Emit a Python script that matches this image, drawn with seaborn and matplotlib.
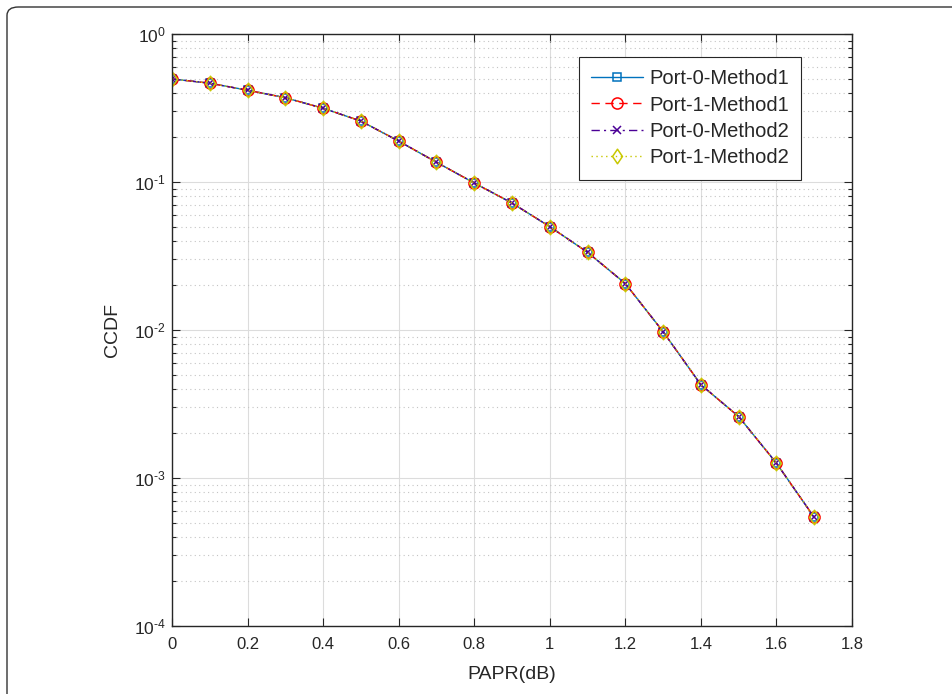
import numpy as np
import pandas as pd
import matplotlib
matplotlib.use("Agg")
import matplotlib.pyplot as plt
import seaborn as sns
from matplotlib.patches import FancyBboxPatch
from matplotlib.path import Path
from matplotlib.ticker import LogLocator, FuncFormatter, FixedLocator, NullLocator

papr = [0.0, 0.1, 0.2, 0.3, 0.4, 0.5, 0.6, 0.7, 0.8, 0.9, 1.0, 1.1, 1.2, 1.3, 1.4, 1.5, 1.6, 1.7]
ccdf_p0_m1 = [0.497, 0.465, 0.417, 0.371, 0.315, 0.258, 0.189, 0.136, 0.0985, 0.0721, 0.0499,
              0.0335, 0.0206, 0.00974, 0.00427, 0.00260, 0.00126, 0.000542]
ccdf_p1_m1 = list(ccdf_p0_m1)
ccdf_p0_m2 = list(ccdf_p0_m1)
ccdf_p1_m2 = list(ccdf_p0_m1)
series_names = ["Port-0-Method1", "Port-1-Method1", "Port-0-Method2", "Port-1-Method2"]
x_ticks = [0, 0.2, 0.4, 0.6, 0.8, 1.0, 1.2, 1.4, 1.6, 1.8]
x_tick_labels = ["0", "0.2", "0.4", "0.6", "0.8", "1", "1.2", "1.4", "1.6", "1.8"]

sns.set_theme(style="white")
plt.rcParams['font.family'] = ['Liberation Sans', 'DejaVu Sans']
plt.rcParams['mathtext.fontset'] = 'custom'
plt.rcParams['mathtext.rm'] = 'Liberation Sans'
plt.rcParams['mathtext.it'] = 'Liberation Sans'
plt.rcParams['mathtext.bf'] = 'Liberation Sans'
plt.rcParams['axes.unicode_minus'] = False

W, H = 952, 694
fig = plt.figure(figsize=(W / 100, H / 100), dpi=100)
fig.patch.set_facecolor("white")
# rounded panel border (right and bottom run off the image)
border = FancyBboxPatch((7 / W, 1 - 720 / H), (980 - 7) / W, (720 - 7) / H,
                        boxstyle="round,pad=0,rounding_size=0.012",
                        transform=fig.transFigure, facecolor="none",
                        edgecolor="#333333", linewidth=1.0, zorder=0)
fig.patches.append(border)

ax = fig.add_axes([172 / W, 1 - 626 / H, (852 - 172) / W, (626 - 34) / H])

matlab_diamond = Path([(0, 1), (0.68, 0), (0, -1), (-0.68, 0), (0, 1)],
                      [Path.MOVETO, Path.LINETO, Path.LINETO, Path.LINETO, Path.CLOSEPOLY])

styles = [
    dict(color="#0072BD", linestyle="-", marker="s", markersize=5.5),
    dict(color="#FF0000", linestyle=(0, (6, 4)), marker="o", markersize=8),
    dict(color="#4B0096", linestyle=(0, (6, 3, 1.5, 3)), marker="x", markersize=6),
    dict(color="#C8C800", linestyle=(0, (1, 2.5)), marker=matlab_diamond, markersize=10.5),
]
data = [ccdf_p0_m1, ccdf_p1_m1, ccdf_p0_m2, ccdf_p1_m2]
for name, vals, st in zip(series_names, data, styles):
    df = pd.DataFrame({"PAPR": papr, "CCDF": vals})
    sns.lineplot(data=df, x="PAPR", y="CCDF", ax=ax, label=name,
                 color=st["color"], linestyle=st["linestyle"], marker=st["marker"],
                 markersize=st["markersize"], markerfacecolor="none",
                 markeredgecolor=st["color"], markeredgewidth=1.1, linewidth=1.0)

ax.set_yscale("log")
ax.set_xlim(0, 1.8)
ax.set_ylim(1e-4, 1)
ax.xaxis.set_major_locator(FixedLocator(x_ticks))
ax.set_xticklabels(x_tick_labels)
ax.xaxis.set_minor_locator(NullLocator())
ax.yaxis.set_major_locator(LogLocator(base=10, numticks=10))


def pow10(v, pos):
    e = int(round(np.log10(v)))
    if e < 0:
        return r"$10^{\text{-}%d}$" % (-e)
    return r"$10^{%d}$" % e


ax.yaxis.set_major_formatter(FuncFormatter(pow10))
ax.yaxis.set_minor_locator(LogLocator(base=10, subs=np.arange(2, 10), numticks=20))

ax.grid(True, which="major", color="#DCDCDC", linestyle="-", linewidth=0.8)
ax.grid(True, which="minor", axis="y", color="#C4C4C4", linestyle=(0, (1, 3)), linewidth=0.8)
ax.set_axisbelow(True)

ax.tick_params(which="both", direction="in", top=True, right=True, bottom=True, left=True,
               colors="#262626", labelcolor="#262626", labelsize=12)
ax.tick_params(which="major", length=6, width=0.8)
ax.tick_params(which="minor", length=3, width=0.8)
ax.tick_params(axis="x", which="major", pad=8)
ax.tick_params(axis="y", which="major", pad=4.5, labelsize=12.5)
for s in ax.spines.values():
    s.set_color("#262626")
    s.set_linewidth(1.0)

ax.set_xlabel("PAPR(dB)", fontsize=14, color="#262626", labelpad=10)
ax.set_ylabel("CCDF", fontsize=14, color="#262626", labelpad=9)

leg = ax.legend(loc="upper right", bbox_to_anchor=(801 / W, 1 - 57 / H),
                bbox_transform=fig.transFigure, fontsize=14.5, frameon=True,
                fancybox=False, edgecolor="#262626", framealpha=1, borderaxespad=0,
                handlelength=2.6, borderpad=0.6, labelspacing=0.37, handletextpad=0.3)
leg.get_frame().set_linewidth(0.8)

fig.savefig("out.png", dpi=100)
